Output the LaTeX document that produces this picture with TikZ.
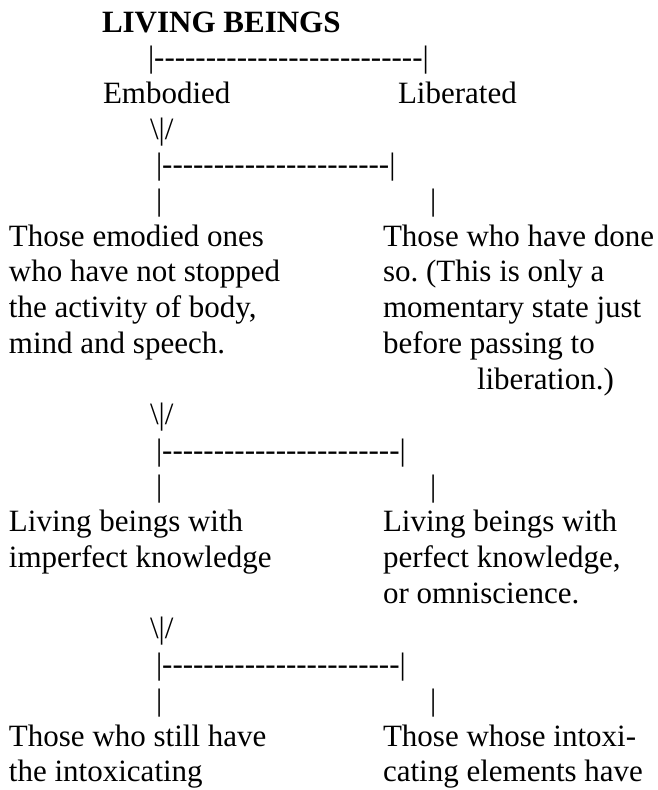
\documentclass[tikz,border=0pt]{standalone}
\usepackage{fontspec}
\setmainfont{Liberation Serif}
\frenchspacing
\newcount\hcnt
\newcommand\hy[1]{\hcnt=#1\relax\loop\ifnum\hcnt>0 -\kern0pt\advance\hcnt by -1\relax\repeat}
\newcommand\brk[1]{|\hy{#1}|}
\newcommand\arr{\textbackslash|/}
\tikzset{
  txt/.style={anchor=base west, inner sep=0pt, outer sep=0pt, font=\fontsize{31}{35.7}\selectfont},
  ttl/.style={txt, font=\fontsize{31}{35.7}\selectfont\bfseries}
}
\begin{document}
\begin{tikzpicture}[x=1pt, y=-1pt]
\useasboundingbox (0,0) rectangle (657,790);
\def\L#1{32+35.7*#1}
% title
\node[ttl] (title) at (102,{\L{0}}) {LIVING BEINGS};
\node[txt] (b1) at (148,{\L{1}}) {\brk{26}};
\node[txt] (emb) at (103,{\L{2}}) {Embodied};
\node[txt] (lib) at (398,{\L{2}}) {Liberated};
% level 2
\node[txt] (a1) at (150,{\L{3}}) {\arr};
\node[txt] (b2) at (156,{\L{4}}) {\brk{22}};
\node[txt] (v2l) at (156,{\L{5}}) {|};
\node[txt] (v2r) at (430,{\L{5}}) {|};
\node[txt] (l2a) at (9,{\L{6}}) {Those emodied ones};
\node[txt] (l2b) at (9,{\L{7}}) {who have not stopped};
\node[txt] (l2c) at (9,{\L{8}}) {the activity of body,};
\node[txt] (l2d) at (9,{\L{9}}) {mind and speech.};
\node[txt] (r2a) at (383,{\L{6}}) {Those who have done};
\node[txt] (r2b) at (383,{\L{7}}) {so. (This is only a};
\node[txt] (r2c) at (383,{\L{8}}) {momentary state just};
\node[txt] (r2d) at (383,{\L{9}}) {before passing to};
\node[txt] (r2e) at (477,{\L{10}}) {liberation.)};
% level 3
\node[txt] (a2) at (150,{\L{11}}) {\arr};
\node[txt] (b3) at (156,{\L{12}}) {\brk{23}};
\node[txt] (v3l) at (156,{\L{13}}) {|};
\node[txt] (v3r) at (430,{\L{13}}) {|};
\node[txt] (l3a) at (9,{\L{14}}) {Living beings with};
\node[txt] (l3b) at (9,{\L{15}}) {imperfect knowledge};
\node[txt] (r3a) at (383,{\L{14}}) {Living beings with};
\node[txt] (r3b) at (383,{\L{15}}) {perfect knowledge,};
\node[txt] (r3c) at (383,{\L{16}}) {or omniscience.};
% level 4
\node[txt] (a3) at (150,{\L{17}}) {\arr};
\node[txt] (b4) at (156,{\L{18}}) {\brk{23}};
\node[txt] (v4l) at (156,{\L{19}}) {|};
\node[txt] (v4r) at (430,{\L{19}}) {|};
\node[txt] (l4a) at (9,{\L{20}}) {Those who still have};
\node[txt] (l4b) at (9,{\L{21}}) {the intoxicating};
\node[txt] (r4a) at (383,{\L{20}}) {Those whose intoxi-};
\node[txt] (r4b) at (383,{\L{21}}) {cating elements have};
\end{tikzpicture}
\end{document}
